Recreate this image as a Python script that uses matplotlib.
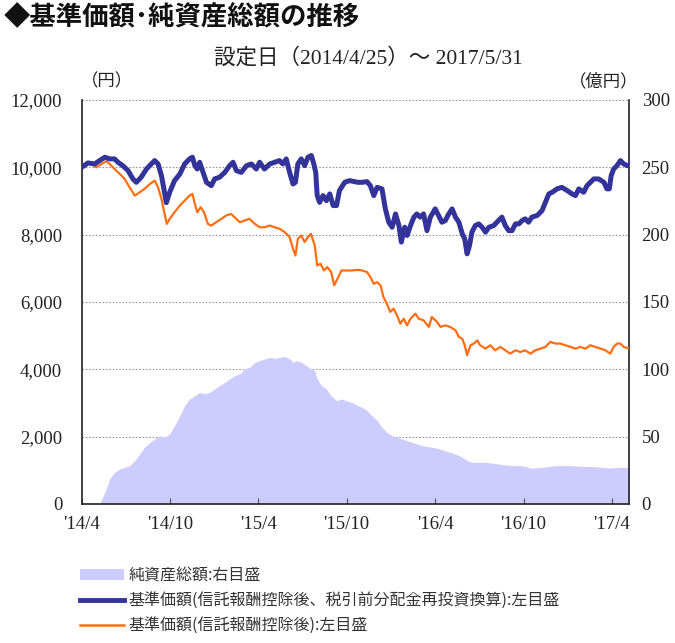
import numpy as np
import pandas as pd
import matplotlib
matplotlib.use('Agg')
from matplotlib import pyplot as plt
from matplotlib.patches import Patch
from matplotlib.lines import Line2D

# 設定日と期間
launch = '2014-04-25'
end = '2017-05-31'

# 基準価額（分配金再投資換算）: 設定日からの日数, 円
blue_days = [0, 13, 27, 37, 48, 58, 68, 75, 85, 96,
             106, 113, 123, 134, 144, 151, 158, 165, 170, 175,
             182, 192, 203, 213, 223, 229, 234, 239, 244, 251,
             258, 268, 275, 285, 296, 306, 313, 320, 330, 341,
             351, 361, 368, 378, 389, 399, 409, 416, 423, 430,
             437, 442, 447, 454, 461, 468, 475, 480, 484, 487,
             492, 499, 506, 513, 520, 527, 533, 544, 554, 571,
             580, 590, 597, 604, 611, 621, 628, 635, 642, 649,
             656, 661, 668, 673, 680, 687, 693, 700, 707, 714,
             721, 731, 738, 745, 752, 759, 766, 773, 780, 787,
             792, 797, 802, 807, 814, 821, 828, 835, 842, 852,
             862, 869, 876, 883, 890, 897, 904, 911, 917, 924,
             931, 942, 952, 959, 966, 973, 983, 993, 1004, 1014,
             1021, 1028, 1038, 1045, 1052, 1059, 1069, 1080, 1086, 1091,
             1095, 1100, 1107, 1114, 1121, 1128, 1132]
blue_vals = [10000, 10130, 10100, 10200, 10300, 10250, 10250, 10150, 10050, 9900,
             9655, 9555, 9705, 9950, 10100, 10200, 10100, 9750, 9360, 8950,
             9260, 9605, 9800, 10100, 10250, 10300, 10050, 9950, 10150, 9850,
             9555, 9455, 9655, 9705, 9850, 10050, 10150, 9900, 9850, 10050,
             10100, 9950, 10150, 9950, 10100, 10150, 10200, 10100, 10250, 9850,
             9505, 9555, 10100, 10250, 10050, 10300, 10350, 10100, 9850, 9160,
             8960, 9160, 9010, 9210, 8865, 8865, 9310, 9555, 9605, 9555,
             9555, 9575, 9455, 9160, 9405, 9360, 8765, 8370, 8220, 8615,
             8270, 7780, 8220, 7975, 8270, 8520, 8615, 8520, 8615, 8120,
             8520, 8765, 8570, 8370, 8420, 8615, 8765, 8520, 8370, 8025,
             7875, 7430, 7680, 8075, 8270, 8320, 8220, 8075, 8220, 8270,
             8420, 8520, 8270, 8120, 8120, 8320, 8320, 8420, 8470, 8370,
             8520, 8570, 8715, 8960, 9210, 9260, 9360, 9405, 9310, 9210,
             9160, 9360, 9260, 9455, 9555, 9655, 9655, 9555, 9360, 9360,
             9755, 9950, 10050, 10200, 10100, 10050, 10050]

# 基準価額（信託報酬控除後）
orange_days = [0, 10, 20, 30, 41, 51, 58, 68, 79, 89,
               99, 110, 120, 130, 141, 151, 158, 165, 170, 176,
               182, 192, 203, 213, 223, 229, 234, 239, 246, 253,
               261, 268, 278, 289, 299, 309, 316, 327, 337, 347,
               358, 368, 378, 389, 399, 410, 420, 430, 437, 442,
               447, 454, 461, 468, 474, 482, 487, 494, 501, 508,
               516, 522, 529, 537, 547, 558, 571, 580, 590, 597,
               604, 611, 618, 624, 631, 638, 645, 652, 659, 666,
               673, 680, 690, 697, 707, 718, 724, 735, 742, 752,
               762, 773, 780, 787, 792, 797, 804, 811, 818, 824,
               835, 845, 855, 866, 876, 886, 897, 907, 917, 928,
               938, 949, 959, 969, 980, 990, 1000, 1011, 1021, 1031,
               1042, 1052, 1062, 1073, 1083, 1093, 1100, 1107, 1114, 1121,
               1132]
orange_vals = [10000, 10100, 10100, 10000, 10100, 10180, 10100, 9950, 9800, 9655,
               9405, 9160, 9260, 9360, 9505, 9605, 9405, 9060, 8715, 8320,
               8470, 8665, 8865, 9010, 9160, 9210, 8915, 8665, 8815, 8665,
               8320, 8270, 8370, 8470, 8570, 8615, 8520, 8370, 8420, 8470,
               8320, 8220, 8220, 8270, 8220, 8170, 8075, 7925, 7580, 7380,
               7875, 7975, 7780, 7925, 8025, 7680, 7085, 7135, 6935, 7035,
               6890, 6495, 6690, 6935, 6935, 6935, 6955, 6935, 6890, 6740,
               6540, 6590, 6495, 6150, 5950, 5705, 5800, 5605, 5355, 5505,
               5305, 5505, 5655, 5505, 5455, 5260, 5555, 5405, 5260, 5305,
               5260, 5160, 4960, 4910, 4715, 4420, 4715, 4765, 4860, 4715,
               4615, 4715, 4565, 4665, 4565, 4465, 4565, 4515, 4565, 4465,
               4565, 4615, 4665, 4815, 4765, 4765, 4715, 4665, 4615, 4665,
               4615, 4715, 4665, 4615, 4565, 4465, 4665, 4765, 4765, 4665,
               4615]

# 純資産総額（億円）
nav_days = [0, 37, 48, 58, 68, 79, 89, 99, 110, 120,
            130, 141, 151, 161, 172, 182, 192, 203, 213, 223,
            234, 244, 254, 265, 275, 285, 296, 306, 316, 327,
            337, 347, 358, 368, 378, 389, 399, 410, 420, 430,
            437, 444, 454, 465, 475, 482, 487, 496, 506, 516,
            527, 537, 547, 558, 571, 580, 590, 600, 611, 621,
            631, 642, 652, 662, 673, 683, 693, 704, 714, 724,
            735, 745, 755, 766, 776, 787, 797, 807, 821, 835,
            849, 862, 876, 890, 904, 917, 928, 952, 980, 1007,
            1035, 1062, 1090, 1111, 1132]
nav_vals = [0, 0, 8.7, 18.6, 23.5, 26.0, 27.2, 28.5, 32.2, 37.1,
            42.1, 45.8, 48.3, 50.7, 49.5, 52.0, 58.2, 65.6, 73.0, 78.0,
            80.4, 82.9, 81.7, 82.9, 85.4, 87.9, 90.3, 92.8, 95.3, 96.5,
            100.2, 101.5, 105.2, 106.4, 107.7, 108.9, 108.2, 108.9, 109.6, 107.7,
            105.2, 106.4, 105.2, 102.7, 100.2, 99.0, 92.8, 87.9, 85.4, 80.4,
            76.7, 78.0, 76.7, 75.5, 73.0, 71.8, 69.3, 65.6, 61.9, 56.9,
            53.2, 50.7, 49.5, 48.3, 47.0, 45.8, 44.6, 43.3, 42.8, 42.1,
            41.3, 40.3, 39.1, 37.9, 36.6, 34.7, 32.2, 30.9, 30.9, 30.9,
            30.4, 29.7, 29.0, 28.5, 28.5, 28.0, 26.5, 27.2, 28.5, 28.5,
            28.0, 27.7, 26.7, 27.2, 27.2]

tick_dates = ['2014-04-25', '2014-10-25', '2015-04-25', '2015-10-25',
              '2016-04-25', '2016-10-25', '2017-04-25']
tick_labels = ["'14/4", "'14/10", "'15/4", "'15/10", "'16/4", "'16/10", "'17/4"]
left_ticks = [0, 2000, 4000, 6000, 8000, 10000, 12000]
right_ticks = [0, 50, 100, 150, 200, 250, 300]

legend_labels = ['純資産総額:右目盛',
                 '基準価額(信託報酬控除後、税引前分配金再投資換算):左目盛',
                 '基準価額(信託報酬控除後):左目盛']

c_blue = '#333399'
c_orange = '#FF6E14'
c_fill = '#CCCCFF'

plt.rcParams['font.family'] = ['Liberation Serif', 'Noto Sans CJK JP']
cjk = ['Noto Sans CJK JP', 'DejaVu Sans']

t0 = pd.Timestamp(launch)
def to_dates(days):
    return t0 + pd.to_timedelta(np.array(days), unit='D')

fig = plt.figure(figsize=(6.75, 6.43), dpi=100)
ax = fig.add_axes([0.121, 0.2162, 0.811, 0.6283])
ax2 = ax.twinx()
ax.set_zorder(ax2.get_zorder() + 1)
ax.patch.set_visible(False)

# 純資産総額（右軸）
ax2.fill_between(to_dates(nav_days), nav_vals, 0, color=c_fill, lw=0, zorder=2)
ax2.set_ylim(0, 300)
ax2.set_yticks(right_ticks)
ax2.yaxis.grid(True, linestyle=(0, (1.5, 1.5)), color='#999999', lw=0.8)
ax2.set_axisbelow(True)

# 基準価額（左軸）
ax.plot(to_dates(orange_days), orange_vals, color=c_orange, lw=1.6, zorder=3)
ax.plot(to_dates(blue_days), blue_vals, color=c_blue, lw=3.6, zorder=4,
        solid_joinstyle='round')
ax.set_ylim(0, 12000)
ax.set_yticks(left_ticks)
ax.set_yticklabels([f'{v:,}' for v in left_ticks])
ax.set_xlim(pd.Timestamp(launch), pd.Timestamp(end))
ax.set_xticks(pd.to_datetime(tick_dates))
ax.set_xticklabels(tick_labels)

for s in ['top', 'right']:
    ax.spines[s].set_visible(False)
for s in ['top', 'left', 'bottom']:
    ax2.spines[s].set_visible(False)
for a, s in [(ax, 'left'), (ax, 'bottom'), (ax2, 'right')]:
    a.spines[s].set_color('#222222')
    a.spines[s].set_linewidth(1.2)

ax.tick_params(axis='y', length=0, pad=14, labelsize=13.5, labelcolor='#222222')
ax2.tick_params(axis='y', length=0, pad=9, labelsize=13.5, labelcolor='#222222')
ax.tick_params(axis='x', direction='in', length=4, width=0.8, color='#555555',
               pad=9, labelsize=13.5, labelcolor='#222222')

# タイトル等
fig.text(0.005, 0.972, '◆基準価額･純資産総額の推移', fontsize=19, fontweight='bold',
         family=cjk, va='center', ha='left', color='#111111')
fig.text(0.545, 0.910, '設定日（2014/4/25）～ 2017/5/31', fontsize=15.5,
         va='center', ha='center', color='#222222')
fig.text(0.158, 0.872, '（円）', fontsize=12.5, va='center', ha='center', color='#222222')
fig.text(0.895, 0.872, '（億円）', fontsize=12.5, va='center', ha='center', color='#222222')

handles = [Patch(facecolor=c_fill, edgecolor='none'),
           Line2D([], [], color=c_blue, lw=3.5),
           Line2D([], [], color=c_orange, lw=1.8)]
leg = fig.legend(handles, legend_labels, loc='upper left', bbox_to_anchor=(0.118, 0.118),
                 frameon=False, prop={'family': cjk, 'size': 11.5},
                 handlelength=2.8, handletextpad=0.25, labelspacing=0.5,
                 borderpad=0, borderaxespad=0)
for t in leg.get_texts():
    t.set_color('#333333')

fig.savefig('out.png', dpi=100)
